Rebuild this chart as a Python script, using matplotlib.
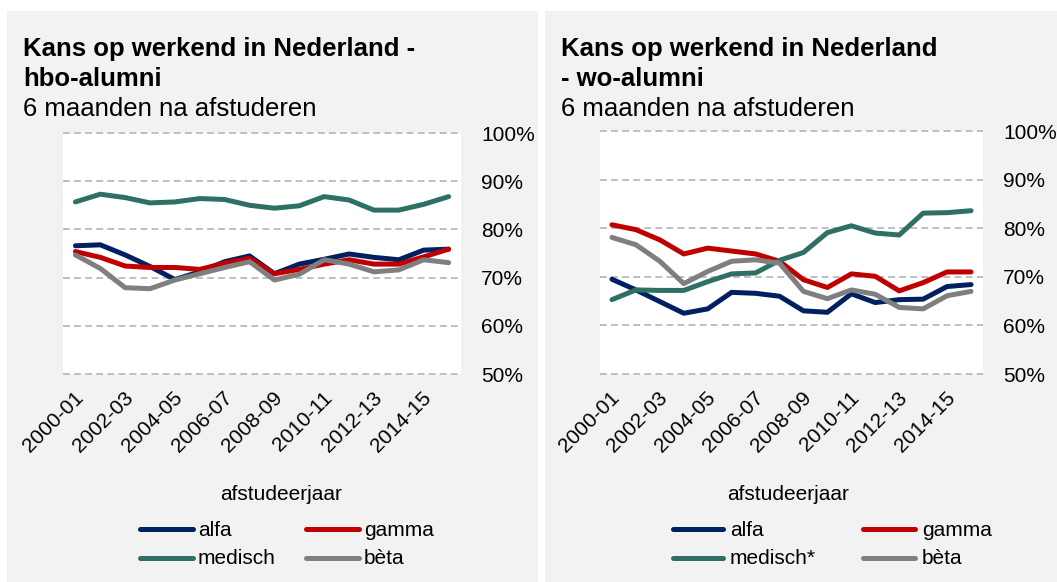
import matplotlib
matplotlib.use("Agg")
import matplotlib.pyplot as plt
from matplotlib.patches import Rectangle
from matplotlib.lines import Line2D
from matplotlib.transforms import ScaledTranslation

plt.rcParams['font.family'] = ['Liberation Sans', 'DejaVu Sans']

categories = ['2000-01', '2001-02', '2002-03', '2003-04', '2004-05', '2005-06',
              '2006-07', '2007-08', '2008-09', '2009-10', '2010-11', '2011-12',
              '2012-13', '2013-14', '2014-15', '2015-16']
tick_labels = ['2000-01', '2002-03', '2004-05', '2006-07', '2008-09',
               '2010-11', '2012-13', '2014-15']
y_ticks = [50, 60, 70, 80, 90, 100]

hbo_alfa = [76.6, 76.8, 74.7, 72.3, 69.6, 71.2, 73.3, 74.5, 70.8, 72.8, 73.8, 74.9, 74.2, 73.7, 75.7, 75.9]
hbo_gamma = [75.4, 74.2, 72.4, 72.1, 72.1, 71.7, 73.0, 74.0, 70.8, 71.7, 72.8, 73.7, 72.8, 72.8, 74.3, 75.9]
hbo_medisch = [85.7, 87.3, 86.6, 85.5, 85.7, 86.4, 86.2, 85.0, 84.4, 84.9, 86.8, 86.1, 84.0, 84.0, 85.2, 86.8]
hbo_beta = [74.7, 71.9, 67.9, 67.7, 69.5, 70.8, 72.1, 73.3, 69.5, 70.7, 73.7, 72.8, 71.2, 71.6, 73.7, 73.1]

wo_alfa = [69.5, 67.3, 64.9, 62.5, 63.4, 66.8, 66.6, 66.0, 63.0, 62.7, 66.5, 64.7, 65.3, 65.4, 68.0, 68.4]
wo_gamma = [80.7, 79.7, 77.6, 74.7, 75.9, 75.3, 74.7, 73.2, 69.4, 67.8, 70.6, 70.1, 67.1, 68.8, 71.0, 71.0]
wo_medisch = [65.3, 67.3, 67.2, 67.2, 69.0, 70.6, 70.8, 73.4, 75.0, 79.1, 80.5, 79.0, 78.6, 83.1, 83.2, 83.6]
wo_beta = [78.1, 76.6, 73.2, 68.6, 71.1, 73.2, 73.5, 72.8, 67.0, 65.5, 67.3, 66.4, 63.7, 63.4, 66.1, 67.0]

C_ALFA = '#002060'
C_GAMMA = '#C00000'
C_MED = '#2E7064'
C_BETA = '#7F7F7F'
GRID = '#BFBFBF'
PANEL = '#F2F2F2'

W, H = 1057, 582
fig = plt.figure(figsize=(W / 100, H / 100), dpi=100)
fig.patch.set_facecolor('white')


def fx(x):
    return x / W


def fy(y):
    return 1 - y / H


# panel backgrounds
fig.patches.append(Rectangle((fx(7), fy(582)), fx(538 - 7), (582 - 11) / H,
                             transform=fig.transFigure, facecolor=PANEL, edgecolor='none', zorder=-10))
fig.patches.append(Rectangle((fx(545), fy(582)), fx(1057 - 545), (582 - 11) / H,
                             transform=fig.transFigure, facecolor=PANEL, edgecolor='none', zorder=-10))


def make_panel(rect_px, series, title1, title2, sub, tx, xlabel_x, leg):
    x0, x1, ytop, ybot = rect_px
    ax = fig.add_axes([fx(x0), fy(ybot), (x1 - x0) / W, (ybot - ytop) / H])
    ax.set_facecolor('white')
    xs = list(range(len(categories)))
    for vals, col in series:
        ax.plot(xs, vals, color=col, lw=3.6, solid_capstyle='round',
                solid_joinstyle='round', zorder=3)
    ax.set_xlim(-0.5, len(categories) - 0.5)
    ax.set_ylim(50, 100)
    ax.set_yticks(y_ticks)
    ax.set_yticklabels([f'{v}%' for v in y_ticks], fontsize=15)
    ax.yaxis.tick_right()
    ax.tick_params(axis='y', length=0, pad=14.4, labelcolor='black')
    for lab in ax.get_yticklabels():
        lab.set_horizontalalignment('left')
    ax.set_xticks([categories.index(t) for t in tick_labels])
    ax.set_xticklabels(tick_labels, fontsize=15, rotation=45, ha='right',
                       va='center', rotation_mode='anchor')
    ax.tick_params(axis='x', length=0, pad=15)
    off = ScaledTranslation(5 / 100, 0, fig.dpi_scale_trans)
    for lab in ax.get_xticklabels():
        lab.set_transform(lab.get_transform() + off)
    for s in ax.spines.values():
        s.set_visible(False)
    ax.grid(axis='y', color=GRID, lw=1.4, ls=(0, (3.5, 2.2)))
    ax.set_axisbelow(True)
    for gl in ax.get_ygridlines():
        gl.set_clip_on(False)

    fig.text(fx(tx), fy(56), title1, fontsize=18.5, fontweight='bold', va='baseline', ha='left')
    fig.text(fx(tx), fy(86), title2, fontsize=18.5, fontweight='bold', va='baseline', ha='left')
    fig.text(fx(tx), fy(116), sub, fontsize=18.5, va='baseline', ha='left')
    fig.text(fx(xlabel_x), fy(495), 'afstudeerjaar', fontsize=15, ha='center', va='center')

    # legend
    for (hx0, hx1, txx, yy, label, col) in leg:
        fig.add_artist(Line2D([fx(hx0), fx(hx1)], [fy(yy), fy(yy)], transform=fig.transFigure,
                              color=col, lw=3.6, solid_capstyle='round'))
        fig.text(fx(txx), fy(yy + 1), label, fontsize=15, ha='left', va='center')
    return ax


make_panel((63, 461, 133, 374),
           [(hbo_alfa, C_ALFA), (hbo_gamma, C_GAMMA), (hbo_medisch, C_MED), (hbo_beta, C_BETA)],
           'Kans op werkend in Nederland -', 'hbo-alumni', '6 maanden na afstuderen', 23, 281,
           [(140, 193, 198, 529, 'alfa', C_ALFA), (306, 359, 364, 529, 'gamma', C_GAMMA),
            (140, 193, 198, 558, 'medisch', C_MED), (306, 359, 364, 558, 'bèta', C_BETA)])

make_panel((600, 983, 131, 374),
           [(wo_alfa, C_ALFA), (wo_gamma, C_GAMMA), (wo_medisch, C_MED), (wo_beta, C_BETA)],
           'Kans op werkend in Nederland', '- wo-alumni', '6 maanden na afstuderen', 561, 788,
           [(673, 723, 730, 529, 'alfa', C_ALFA), (863, 915, 922, 529, 'gamma', C_GAMMA),
            (673, 723, 730, 558, 'medisch*', C_MED), (863, 915, 922, 558, 'bèta', C_BETA)])

fig.savefig('out.png', dpi=100, facecolor=fig.get_facecolor())
